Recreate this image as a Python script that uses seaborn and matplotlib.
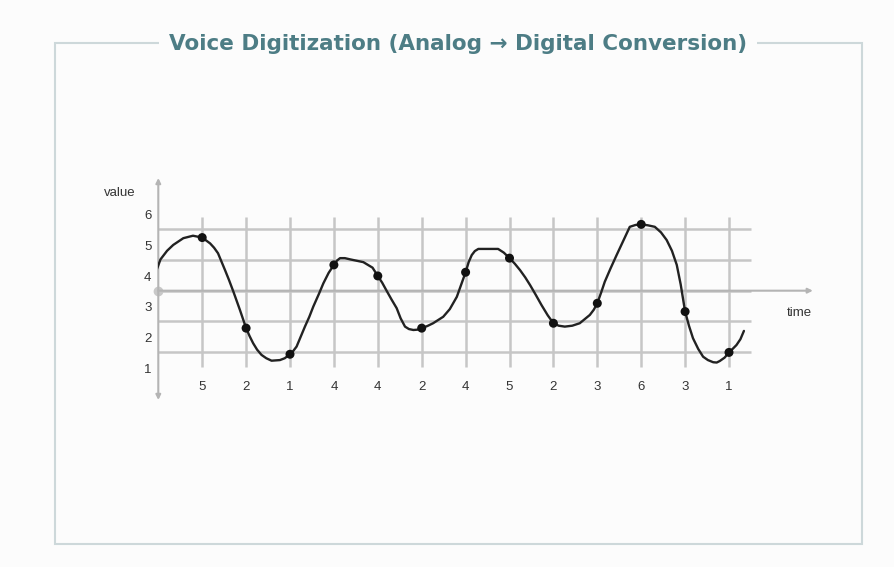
import matplotlib
matplotlib.use('Agg')
import matplotlib.pyplot as plt
import seaborn as sns
import pandas as pd
from matplotlib.patches import Rectangle

# analog signal (grid units: x = sample index, y = level)
curve_x = [-0.08, 0.05, 0.20, 0.34, 0.57, 0.79, 1.00, 1.18, 1.27, 1.36,
           1.52, 1.61, 1.71, 1.86, 2.00, 2.08, 2.16, 2.25, 2.35, 2.46,
           2.58, 2.77, 2.88, 3.00, 3.07, 3.15, 3.34, 3.44, 3.53, 3.66,
           3.76, 3.88, 4.00, 4.07, 4.14, 4.25, 4.37, 4.67, 4.88, 5.00,
           5.10, 5.20, 5.31, 5.43, 5.52, 5.62, 5.71, 5.81, 5.90, 6.00,
           6.13, 6.26, 6.49, 6.64, 6.80, 6.90, 7.00, 7.07, 7.14, 7.21,
           7.29, 7.74, 7.87, 8.00, 8.12, 8.24, 8.36, 8.47, 8.60, 8.73,
           8.87, 9.00, 9.12, 9.26, 9.43, 9.60, 9.83, 9.92, 10.00, 10.09,
           10.17, 10.30, 10.44, 10.60, 10.74, 10.87, 11.00, 11.15, 11.31, 11.45,
           11.58, 11.70, 11.81, 11.90, 12.00, 12.09, 12.18, 12.30, 12.41, 12.52,
           12.64, 12.72, 12.79, 12.90, 13.00, 13.08, 13.17, 13.26, 13.34]
curve_y = [4.51, 5.02, 5.30, 5.49, 5.71, 5.79, 5.73, 5.54, 5.40, 5.22,
           4.67, 4.35, 3.97, 3.37, 2.78, 2.52, 2.29, 2.08, 1.91, 1.80,
           1.72, 1.74, 1.80, 1.93, 2.03, 2.18, 2.83, 3.15, 3.48, 3.90,
           4.24, 4.58, 4.84, 4.98, 5.06, 5.06, 5.02, 4.93, 4.75, 4.48,
           4.26, 4.00, 3.72, 3.43, 3.10, 2.83, 2.75, 2.72, 2.73, 2.78,
           2.85, 2.94, 3.15, 3.40, 3.80, 4.20, 4.60, 4.93, 5.16, 5.29,
           5.36, 5.36, 5.24, 5.06, 4.88, 4.67, 4.43, 4.18, 3.86, 3.53,
           3.20, 2.94, 2.86, 2.83, 2.86, 2.94, 3.21, 3.38, 3.59, 3.95,
           4.29, 4.72, 5.16, 5.65, 6.08, 6.14, 6.16, 6.13, 6.08, 5.90,
           5.65, 5.30, 4.84, 4.20, 3.32, 2.85, 2.45, 2.10, 1.85, 1.74,
           1.67, 1.66, 1.71, 1.82, 1.99, 2.10, 2.23, 2.42, 2.69]

# sampled points and their quantized (digital) values
sample_x = list(range(1, 14))
sample_y = [5.73, 2.78, 1.93, 4.84, 4.48, 2.78, 4.60, 5.06, 2.94, 3.59, 6.16, 3.32, 1.99]
sample_codes = [5, 2, 1, 4, 4, 2, 4, 5, 2, 3, 6, 3, 1]

level_labels = [1, 2, 3, 4, 5, 6]
grid_levels = [2, 3, 4, 5, 6]

title = 'Voice Digitization (Analog \u2192 Digital Conversion)'

sns.set_theme(style='white')
plt.rcParams['font.family'] = ['Liberation Sans', 'DejaVu Sans']

bg = '#fcfcfc'
fig = plt.figure(figsize=(8.94, 5.67), dpi=100, facecolor=bg)

# outer frame with the title sitting on its top edge
fig.patches.append(Rectangle((55 / 894, 1 - 544 / 567), (862 - 55) / 894, (544 - 43) / 567,
                             transform=fig.transFigure, fill=False,
                             edgecolor='#cdd8da', lw=1.5, zorder=0))
fig.text(458 / 894, 1 - 44 / 567, title, ha='center', va='center',
         fontsize=15.5, fontweight='bold', color='#4d7d85', zorder=5,
         family=['DejaVu Sans'],
         bbox=dict(boxstyle='square,pad=0.45', facecolor=bg, edgecolor='none'))

ax = fig.add_axes([158.3 / 894, (567 - 400) / 567, 658.5 / 894, 222 / 567])
ax.set_facecolor('none')
ax.set_xlim(0, 15)
ax.set_ylim(0.44, 7.67)

grid_c = '#c6c6c6'
ax.hlines(grid_levels, -0.465, 13.51, color=grid_c, lw=1.8, zorder=1)
ax.vlines(sample_x, 1.51, 6.41, color=grid_c, lw=1.8, zorder=1)

ax.annotate('', xy=(0, 7.67), xytext=(0, 0.44), annotation_clip=False,
            arrowprops=dict(arrowstyle='<|-|>', color='#b4b4b4', lw=1.5,
                            mutation_scale=7, shrinkA=0, shrinkB=0))
ax.annotate('', xy=(14.91, 4), xytext=(0, 4), annotation_clip=False,
            arrowprops=dict(arrowstyle='-|>', color='#b4b4b4', lw=1.5,
                            mutation_scale=7, shrinkA=0, shrinkB=0))
ax.plot([0], [4], 'o', color='#c8c8c8', ms=6, zorder=2, clip_on=False)

curve = pd.DataFrame({'x': curve_x, 'y': curve_y})
sns.lineplot(data=curve, x='x', y='y', sort=False, estimator=None,
             color='#222222', lw=1.7, ax=ax, zorder=3,
             solid_joinstyle='round', solid_capstyle='round')
samples = pd.DataFrame({'x': sample_x, 'y': sample_y})
sns.scatterplot(data=samples, x='x', y='y', color='#111111', s=42,
                edgecolor='none', ax=ax, zorder=4)
ax.axis('off')

txt_c = '#333333'
fs = 9.5
for k in level_labels:
    ax.text(-0.24, k + 0.42, str(k), ha='center', va='center', fontsize=fs, color=txt_c)
for xi, code in zip(sample_x, sample_codes):
    ax.text(xi, 0.86, str(code), ha='center', va='center', fontsize=fs, color=txt_c)
ax.text(-0.875, 7.18, 'value', ha='center', va='center', fontsize=fs, color=txt_c)
ax.text(14.61, 3.27, 'time', ha='center', va='center', fontsize=fs, color=txt_c)

fig.savefig('out.png', dpi=100, facecolor=bg)
